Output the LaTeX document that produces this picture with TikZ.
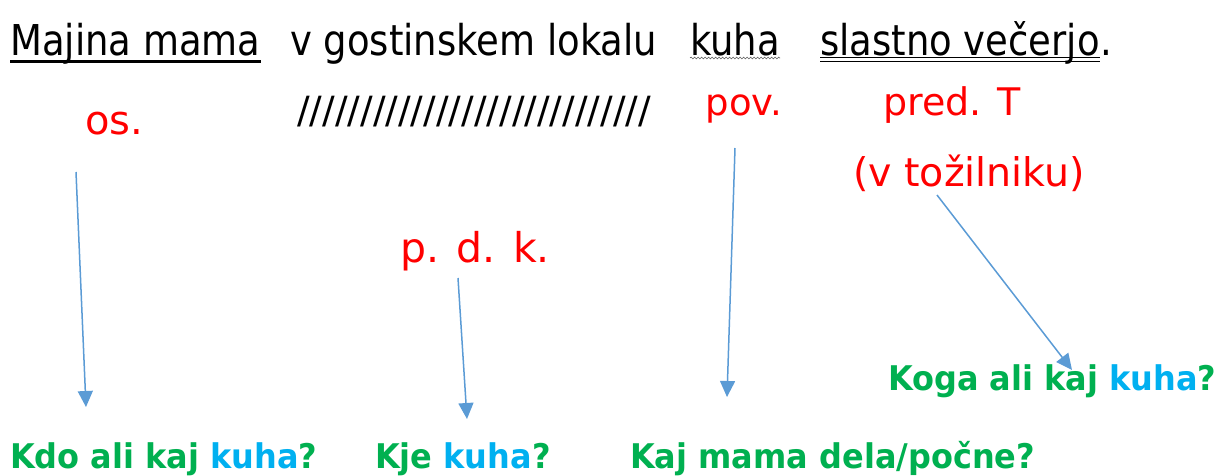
\documentclass[tikz,border=0pt]{standalone}
\usepackage{fontspec}
\setmainfont{DejaVu Sans}
\newfontfamily\narrowfont[FakeStretch=0.87]{DejaVu Sans}
\newfontfamily\boldnarrow[FakeStretch=0.94]{DejaVu Sans Bold}
\usetikzlibrary{arrows.meta,decorations.pathmorphing}
\definecolor{qgreen}{HTML}{00B050}
\definecolor{qblue}{HTML}{00B0F0}
\definecolor{arrblue}{HTML}{5B9BD5}
\definecolor{lred}{HTML}{FF0000}
\begin{document}
\begin{tikzpicture}[x=1pt,y=-1pt,
  sent/.style={anchor=base west, inner sep=0pt, font=\narrowfont\fontsize{42.5}{50}\selectfont},
  lab/.style={anchor=base, inner sep=0pt, text=lred, font=\fontsize{38}{46}\selectfont},
  quest/.style={anchor=base west, inner sep=0pt, text=qgreen, font=\boldnarrow\fontsize{34}{40}\selectfont},
  arr/.style={draw=arrblue, line width=1.5pt, -{Triangle[length=16pt,width=15pt]}}]
\useasboundingbox (0,0) rectangle (1227,475);
% sentence
\node[sent] (n1) at (10,55) {Majina mama};
\node[sent] (n2) at (290,55) {v gostinskem lokalu};
\node[sent] (n3) at (690,55) {kuha};
\node[sent] (n4) at (820,55) {slastno večerjo};
\node[sent] (n5) at (n4.base east) {.};
\draw[line width=3pt] ([yshift=-6.5pt]n1.base west) -- ([yshift=-6.5pt]n1.base east);
\draw[line width=1.3pt] ([yshift=-2.5pt]n4.base west) -- ([yshift=-2.5pt]n4.base east);
\draw[line width=1.3pt] ([yshift=-6.5pt]n4.base west) -- ([yshift=-6.5pt]n4.base east);
\draw[gray!70!black, line width=0.6pt, decorate, decoration={snake, amplitude=0.9pt, segment length=3.5pt}]
  ([yshift=-3pt]n3.base west) -- ([yshift=-3pt]n3.base east);
% labels
\node[lab, font=\fontsize{40}{46}\selectfont] (os) at (114.5,134) {os.};
\node[anchor=base west, inner sep=0pt, font=\fontsize{37.5}{44}\selectfont] (sl) at (297,123) {////////////////////////////};
\node[lab, font=\fontsize{37}{44}\selectfont] (pov) at (744,115) {pov.};
\node[lab, font=\fontsize{38}{44}\selectfont] (pred) at (952,115) {pred. T};
\node[lab, font=\fontsize{39.5}{46}\selectfont] (toz) at (969,186) {(v tožilniku)};
\node[lab, font=\fontsize{41}{48}\selectfont] (pdk) at (475,262) {p. d. k.};
% questions
\node[quest] (q1) at (10,468) {Kdo ali kaj \textcolor{qblue}{kuha}?};
\node[quest] (q2) at (375,468) {Kje \textcolor{qblue}{kuha}?};
\node[quest] (q3) at (630,468) {Kaj mama dela/počne?};
\node[quest] (q4) at (888,390) {Koga ali kaj \textcolor{qblue}{kuha}?};
% arrows
\coordinate (a1s) at (76,172);  \coordinate (a1e) at (86,407);
\coordinate (a2s) at (458,278); \coordinate (a2e) at (467,419);
\coordinate (a3s) at (735,148); \coordinate (a3e) at (727,397);
\coordinate (a4s) at (937,195); \coordinate (a4e) at (1072,370);
\draw[arr] (a1s) -- (a1e);
\draw[arr] (a2s) -- (a2e);
\draw[arr] (a3s) -- (a3e);
\draw[arr] (a4s) -- (a4e);
\end{tikzpicture}
\end{document}
